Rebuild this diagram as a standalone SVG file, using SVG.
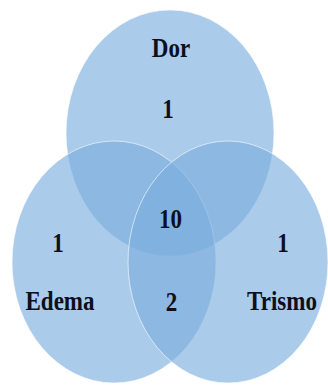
<svg xmlns="http://www.w3.org/2000/svg" width="328" height="385" viewBox="0 0 328 385">
  <style>
    .set { fill: #7aacde; fill-opacity: 0.63; stroke: #ffffff; stroke-opacity: 0.6; stroke-width: 1; }
    .lbl { font-family: "Liberation Serif", "Times New Roman", serif; font-weight: bold; font-size: 23px; fill: #0d0f1c; text-anchor: middle; }
  </style>
  <rect width="328" height="385" fill="#ffffff"/>
  <g id="dor">
    <ellipse class="set" cx="170" cy="133" rx="104" ry="123"/>
    <text class="lbl" transform="translate(171,57) scale(1,1.22)">Dor</text>
    <text class="lbl" transform="translate(168,118) scale(1,1.22)">1</text>
  </g>
  <g id="edema">
    <ellipse class="set" cx="114" cy="262" rx="102" ry="121"/>
    <text class="lbl" transform="translate(58,252) scale(1,1.22)">1</text>
    <text class="lbl" transform="translate(60,310) scale(1,1.22)">Edema</text>
  </g>
  <g id="trismo">
    <ellipse class="set" cx="228" cy="262" rx="100" ry="121"/>
    <text class="lbl" transform="translate(283,252) scale(1,1.22)">1</text>
    <text class="lbl" transform="translate(282,310) scale(1,1.22)">Trismo</text>
  </g>
  <g id="intersections">
    <text class="lbl" transform="translate(170.5,228) scale(1,1.22)">10</text>
    <text class="lbl" transform="translate(171.5,311) scale(1,1.22)">2</text>
  </g>
  <g id="connectors"/>
</svg>
